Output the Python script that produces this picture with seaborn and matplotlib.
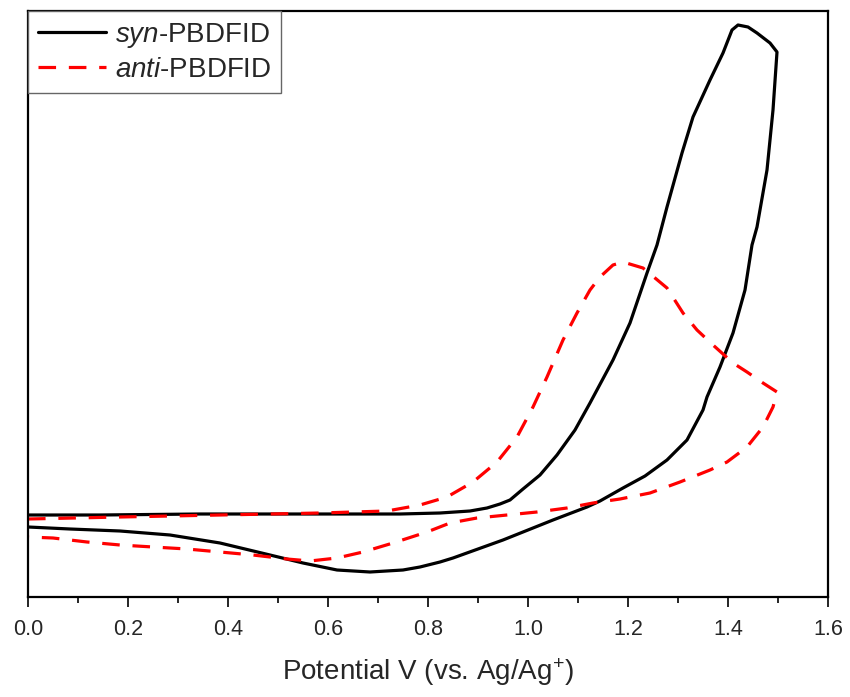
import numpy as np
import pandas as pd
import matplotlib
matplotlib.use('Agg')
import matplotlib.pyplot as plt
from matplotlib.ticker import MultipleLocator
import seaborn as sns

# Циклические вольтамперограммы (потенциал, В; ток, отн. ед.)
syn_v = [0.000, 0.144, 0.344, 0.544, 0.744, 0.824, 0.884, 0.918, 0.944, 0.964,
         0.990, 1.024, 1.058, 1.094, 1.124, 1.170, 1.204, 1.238, 1.258, 1.278,
         1.308, 1.330, 1.364, 1.390, 1.408, 1.420, 1.440, 1.458, 1.484, 1.498,
         1.490, 1.478, 1.458, 1.448, 1.434, 1.410, 1.384, 1.358, 1.350, 1.318,
         1.278, 1.234, 1.190, 1.144, 1.118, 1.050, 0.950, 0.850, 0.824, 0.784,
         0.750, 0.684, 0.618, 0.550, 0.484, 0.384, 0.284, 0.184, 0.084, 0.000]
syn_i = [0.82, 0.82, 0.83, 0.83, 0.83, 0.84, 0.86, 0.89, 0.93, 0.97,
         1.08, 1.22, 1.42, 1.67, 1.94, 2.37, 2.74, 3.24, 3.52, 3.90,
         4.44, 4.80, 5.17, 5.44, 5.67, 5.72, 5.70, 5.64, 5.54, 5.45,
         4.87, 4.27, 3.70, 3.52, 3.07, 2.64, 2.30, 2.00, 1.87, 1.57,
         1.37, 1.21, 1.09, 0.96, 0.90, 0.77, 0.57, 0.39, 0.35, 0.30,
         0.27, 0.25, 0.27, 0.34, 0.42, 0.54, 0.62, 0.66, 0.68, 0.70]

anti_v = [0.000, 0.184, 0.384, 0.584, 0.718, 0.784, 0.838, 0.890, 0.938, 0.978,
          1.010, 1.038, 1.070, 1.098, 1.124, 1.144, 1.170, 1.190, 1.230, 1.278,
          1.310, 1.338, 1.370, 1.410, 1.438, 1.470, 1.498,
          1.490, 1.470, 1.438, 1.398, 1.364, 1.304, 1.244, 1.184, 1.130, 1.078,
          1.018, 0.958, 0.898, 0.844, 0.798, 0.730, 0.670, 0.618, 0.564, 0.518,
          0.450, 0.384, 0.318, 0.250, 0.184, 0.118, 0.050, 0.000]
anti_i = [0.78, 0.80, 0.82, 0.84, 0.86, 0.92, 1.00, 1.15, 1.35, 1.60,
          1.90, 2.20, 2.57, 2.84, 3.07, 3.20, 3.32, 3.35, 3.29, 3.09,
          2.84, 2.67, 2.52, 2.34, 2.25, 2.14, 2.05,
          1.90, 1.70, 1.50, 1.35, 1.27, 1.15, 1.04, 0.98, 0.94, 0.89,
          0.85, 0.82, 0.79, 0.74, 0.65, 0.54, 0.45, 0.39, 0.36, 0.38,
          0.42, 0.45, 0.48, 0.50, 0.52, 0.55, 0.59, 0.60]

sns.set_style('ticks')
plt.rcParams['font.family'] = ['Liberation Sans', 'DejaVu Sans']
plt.rcParams['mathtext.fontset'] = 'custom'
plt.rcParams['mathtext.rm'] = 'Liberation Sans'
plt.rcParams['mathtext.it'] = 'Liberation Sans:italic'

fig = plt.figure(figsize=(8.5, 6.97), dpi=100)
ax = fig.add_axes([28 / 850, 100 / 697, 800 / 850, 586 / 697])

sns.lineplot(x=syn_v, y=syn_i, sort=False, estimator=None, ax=ax,
             color='black', linewidth=2.3, label=r'$\it{syn}$-PBDFID')
sns.lineplot(x=anti_v, y=anti_i, sort=False, estimator=None, ax=ax,
             color='#ff0000', linewidth=2.3, dashes=False, label=r'$\it{anti}$-PBDFID')
ax.lines[1].set_dashes((5.5, 4))

ax.set_xlim(0, 1.6)
ax.set_ylim(0, 5.86)
ax.xaxis.set_major_locator(MultipleLocator(0.2))
ax.xaxis.set_minor_locator(MultipleLocator(0.1))
ax.set_xticklabels([f'{t:.1f}' for t in ax.get_xticks()])
ax.set_yticks([])
ax.tick_params(axis='x', which='major', length=7.5, width=1.2, labelsize=15.5, pad=8, color='black')
ax.tick_params(axis='x', which='minor', length=4, width=1.2, color='black')
for s in ax.spines.values():
    s.set_visible(True)
    s.set_linewidth(1.6)
    s.set_color('black')

ax.set_xlabel(r'Potential V (vs. Ag/Ag$^{+}$)', fontsize=20, labelpad=12)
ax.set_ylabel('')

leg = ax.legend(loc='upper left', borderaxespad=0, fontsize=20, frameon=True,
                fancybox=False, handlelength=2.45, handletextpad=0.32,
                labelspacing=0.26, borderpad=0.36)
leg.get_frame().set_edgecolor('#666666')
leg.get_frame().set_linewidth(1.0)
leg.get_frame().set_alpha(1)

plt.savefig('out.png', dpi=100)
plt.close()
